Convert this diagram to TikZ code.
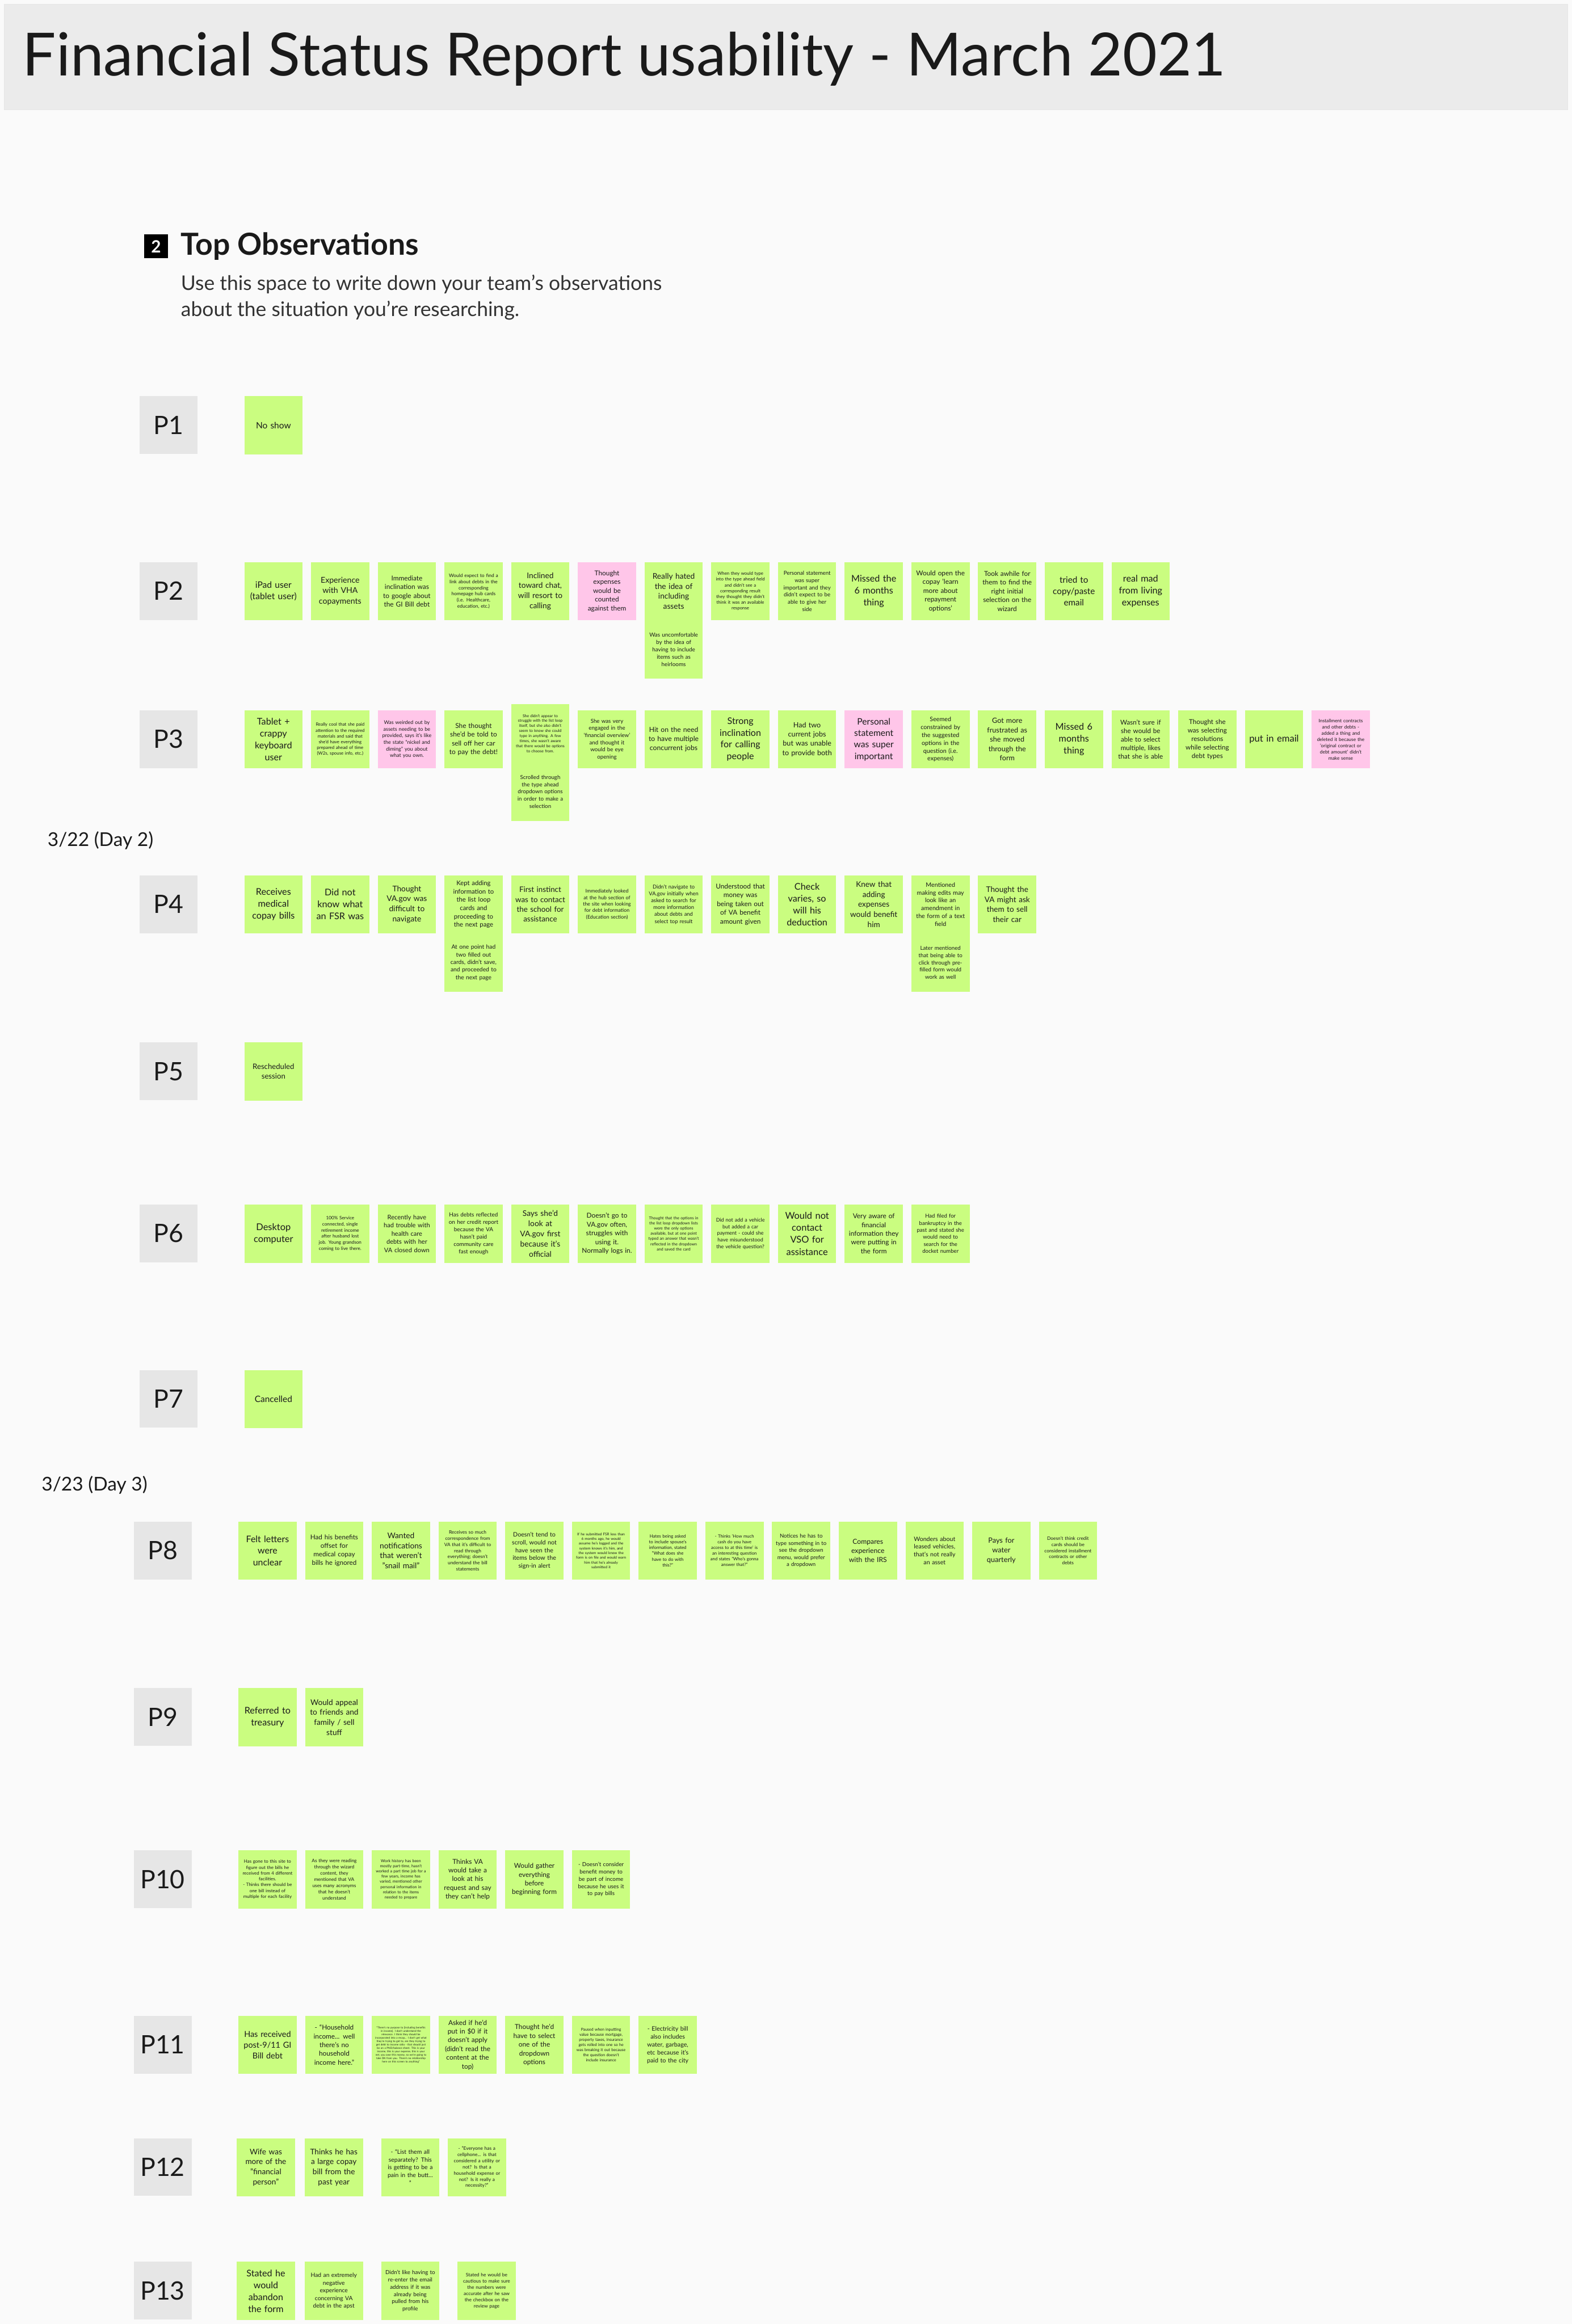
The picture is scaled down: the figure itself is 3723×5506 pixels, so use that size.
\documentclass[tikz,border=0pt]{standalone}
\usepackage{fontspec}
\setmainfont{Lato}
\definecolor{bgc}{HTML}{FAFAFA}
\definecolor{barc}{HTML}{EBEBEB}
\definecolor{stickyg}{HTML}{CAFD80}
\definecolor{stickyp}{HTML}{FFC6E9}
\definecolor{labelgray}{HTML}{E6E6E6}
\definecolor{ink}{HTML}{1A1A1A}
\definecolor{subink}{HTML}{333333}
\newcommand\ls[1]{\fontsize{\fpeval{#1*0.2189}pt}{\fpeval{#1*0.28453}pt}\selectfont}
\newcommand\fpx[1]{\fontsize{\fpeval{#1*0.28453}pt}{\fpeval{#1*0.28453*1.3}pt}\selectfont}
\tikzset{
  note/.style={fill=stickyg, anchor=north west, minimum width=13.8mm, minimum height=13.8mm,
    text width=13.6mm, inner xsep=0.1mm, inner ysep=0pt, align=center, text=ink},
  pnote/.style={note, fill=stickyp},
  plabel/.style={fill=labelgray, anchor=north west, minimum width=13.7mm, minimum height=13.7mm,
    inner sep=0pt, text=ink, font=\fpx{60}},
  daylabel/.style={anchor=west, inner sep=0pt, text=ink, font=\fpx{45}}
}
\begin{document}
\begin{tikzpicture}[x=0.1mm,y=-0.1mm]
\useasboundingbox (0,0) rectangle (3723,5506);
\fill[bgc] (0,0) rectangle (3723,5506);
% title bar
\node[fill=barc, draw=labelgray, anchor=north west, minimum width=370.3mm, minimum height=25mm, inner sep=0pt] (bar) at (10,10) {};
\node[anchor=west, inner sep=0pt, text=ink, font=\fpx{141}] (title) at (53,140) {Financial Status Report usability - March 2021};
% header
\node[fill=black, anchor=north west, minimum size=5.6mm, inner sep=0pt, text=white, font=\bfseries\fpx{40}] (num) at (341,555) {2};
\node[anchor=west, inner sep=0pt, text=ink, font=\bfseries\fpx{72}] (hdr) at (428,584) {Top Observations};
\node[anchor=north west, inner sep=0pt, text=subink, align=left, font=\ls{62}] (sub) at (428,650) {Use this space to write down your team's observations\\about the situation you're researching.};
% day labels
\node[daylabel] (day2) at (112,1991) {3/22 (Day 2)};
\node[daylabel] (day3) at (98,3519) {3/23 (Day 3)};

% P1
\node[plabel] (l1) at (330,938) {P1};
\node[note, font=\ls{27}] (p1a) at (578,938) {No show};

% P2
\node[plabel] (l2) at (330,1331) {P2};
\node[note, font=\ls{27.3}] (p2a) at (578,1331) {iPad user\\(tablet user)};
\node[note, font=\ls{24.7}] (p2b) at (736,1331) {Experience\\with VHA\\copayments};
\node[note, font=\ls{20.7}] (p2c) at (894,1331) {Immediate\\inclination was\\to google about\\the GI Bill debt};
\node[note, font=\ls{14.7}] (p2d) at (1052,1331) {Would expect to find a\\link about debts in the\\corresponding\\homepage hub cards\\(i.e. Healthcare,\\education, etc.)};
\node[note, font=\ls{24}] (p2e) at (1210,1331) {Inclined\\toward chat,\\will resort to\\calling};
\node[pnote, font=\ls{20.7}] (p2f) at (1368,1331) {Thought\\expenses\\would be\\counted\\against them};
\node[note, font=\ls{24}] (p2g) at (1526,1331) {Really hated\\the idea of\\including\\assets};
\node[note, font=\ls{17.3}] (p2g2) at (1526,1469) {Was uncomfortable\\by the idea of\\having to include\\items such as\\heirlooms};
\node[note, font=\ls{13.7}] (p2h) at (1684,1331) {When they would type\\into the type ahead field\\and didn't see a\\corresponding result\\they thought they didn't\\think it was an available\\response};
\node[note, font=\ls{17}] (p2i) at (1842,1331) {Personal statement\\was super\\important and they\\didn't expect to be\\able to give her\\side};
\node[note, font=\ls{28.3}] (p2j) at (2000,1331) {Missed the\\6 months\\thing};
\node[note, font=\ls{20.7}] (p2k) at (2158,1331) {Would open the\\copay 'learn\\more about\\repayment\\options'};
\node[note, font=\ls{20.7}] (p2l) at (2316,1331) {Took awhile for\\them to find the\\right initial\\selection on the\\wizard};
\node[note, font=\ls{26.7}] (p2m) at (2474,1331) {tried to\\copy/paste\\email};
\node[note, font=\ls{28.3}] (p2n) at (2632,1331) {real mad\\from living\\expenses};

% P3
\node[plabel] (l3) at (330,1682) {P3};
\node[note, font=\ls{28.3}] (p3a) at (578,1682) {Tablet +\\crappy\\keyboard\\user};
\node[note, font=\ls{13.7}] (p3b) at (736,1682) {Really cool that she paid\\attention to the required\\materials and said that\\she'd have everything\\prepared ahead of time\\(W2s, spouse info, etc.)};
\node[pnote, font=\ls{15.7}] (p3c) at (894,1682) {Was weirded out by\\assets needing to be\\provided, says it’s like\\the state “nickel and\\diming” you about\\what you own.};
\node[note, font=\ls{20.7}] (p3d) at (1052,1682) {She thought\\she’d be told to\\sell off her car\\to pay the debt!};
\node[note, font=\ls{12}] (p3e) at (1210,1668) {She didn't appear to\\struggle with the list loop\\itself, but she also didn't\\seem to know she could\\type in anything. A few\\times, she wasn't aware\\that there would be options\\to choose from.};
\node[note, font=\ls{17}] (p3e2) at (1210,1806) {Scrolled through\\the type ahead\\dropdown options\\in order to make a\\selection};
\node[note, font=\ls{17}] (p3f) at (1368,1682) {She was very\\engaged in the\\‘financial overview’\\and thought it\\would be eye\\opening};
\node[note, font=\ls{21.3}] (p3g) at (1526,1682) {Hit on the need\\to have multiple\\concurrent jobs};
\node[note, font=\ls{28}] (p3h) at (1684,1682) {Strong\\inclination\\for calling\\people};
\node[note, font=\ls{22}] (p3i) at (1842,1682) {Had two\\current jobs\\but was unable\\to provide both};
\node[pnote, font=\ls{27.3}] (p3j) at (2000,1682) {Personal\\statement\\was super\\important};
\node[note, font=\ls{18.7}] (p3k) at (2158,1682) {Seemed\\constrained by\\the suggested\\options in the\\question (i.e.\\expenses)};
\node[note, font=\ls{22}] (p3l) at (2316,1682) {Got more\\frustrated as\\she moved\\through the\\form};
\node[note, font=\ls{28.3}] (p3m) at (2474,1682) {Missed 6\\months\\thing};
\node[note, font=\ls{20.3}] (p3n) at (2632,1682) {Wasn't sure if\\she would be\\able to select\\multiple, likes\\that she is able};
\node[note, font=\ls{20.3}] (p3o) at (2790,1682) {Thought she\\was selecting\\resolutions\\while selecting\\debt types};
\node[note, font=\ls{29}] (p3p) at (2948,1682) {put in email};
\node[pnote, font=\ls{14.7}] (p3q) at (3106,1682) {Installment contracts\\and other debts -\\added a thing and\\deleted it because the\\'original contract or\\debt amount' didn't\\make sense};

% P4
\node[plabel] (l4) at (330,2073) {P4};
\node[note, font=\ls{28.3}] (p4a) at (578,2073) {Receives\\medical\\copay bills};
\node[note, font=\ls{28.3}] (p4b) at (736,2073) {Did not\\know what\\an FSR was};
\node[note, font=\ls{24}] (p4c) at (894,2073) {Thought\\VA.gov was\\difficult to\\navigate};
\node[note, font=\ls{19.7}] (p4d) at (1052,2073) {Kept adding\\information to\\the list loop\\cards and\\proceeding to\\the next page};
\node[note, font=\ls{18}] (p4d2) at (1052,2211) {At one point had\\two filled out\\cards, didn't save,\\and proceeded to\\the next page};
\node[note, font=\ls{23.3}] (p4e) at (1210,2073) {First instinct\\was to contact\\the school for\\assistance};
\node[note, font=\ls{15.3}] (p4f) at (1368,2073) {Immediately looked\\at the hub section of\\the site when looking\\for debt information\\(Education section)};
\node[note, font=\ls{16.3}] (p4g) at (1526,2073) {Didn't navigate to\\VA.gov initially when\\asked to search for\\more information\\about debts and\\select top result};
\node[note, font=\ls{20.7}] (p4h) at (1684,2073) {Understood that\\money was\\being taken out\\of VA benefit\\amount given};
\node[note, font=\ls{28.3}] (p4i) at (1842,2073) {Check\\varies, so\\will his\\deduction};
\node[note, font=\ls{23.7}] (p4j) at (2000,2073) {Knew that\\adding\\expenses\\would benefit\\him};
\node[note, font=\ls{18.7}] (p4k) at (2158,2073) {Mentioned\\making edits may\\look like an\\amendment in\\the form of a text\\field};
\node[note, font=\ls{17}] (p4k2) at (2158,2211) {Later mentioned\\that being able to\\click through pre-\\filled form would\\work as well};
\node[note, font=\ls{23.7}] (p4l) at (2316,2073) {Thought the\\VA might ask\\them to sell\\their car};

% P5
\node[plabel] (l5) at (330,2469) {P5};
\node[note, font=\ls{23}] (p5a) at (578,2469) {Rescheduled\\session};

% P6
\node[plabel] (l6) at (330,2853) {P6};
\node[note, font=\ls{28.7}] (p6a) at (578,2853) {Desktop\\computer};
\node[note, font=\ls{14.3}] (p6b) at (736,2853) {100\% Service\\connected, single\\retirement income\\after husband lost\\job. Young grandson\\coming to live there.};
\node[note, font=\ls{19.3}] (p6c) at (894,2853) {Recently have\\had trouble with\\health care\\debts with her\\VA closed down};
\node[note, font=\ls{17.3}] (p6d) at (1052,2853) {Has debts reflected\\on her credit report\\because the VA\\hasn't paid\\community care\\fast enough};
\node[note, font=\ls{24}] (p6e) at (1210,2853) {Says she'd\\look at\\VA.gov first\\because it's\\official};
\node[note, font=\ls{20.7}] (p6f) at (1368,2853) {Doesn't go to\\VA.gov often,\\struggles with\\using it.\\Normally logs in.};
\node[note, font=\ls{12.3}] (p6g) at (1526,2853) {Thought that the options in\\the list loop dropdown lists\\were the only options\\available, but at one point\\typed an answer that wasn't\\reflected in the dropdown\\and saved the card};
\node[note, font=\ls{15.7}] (p6h) at (1684,2853) {Did not add a vehicle\\but added a car\\payment - could she\\have misunderstood\\the vehicle question?};
\node[note, font=\ls{28.7}] (p6i) at (1842,2853) {Would not\\contact\\VSO for\\assistance};
\node[note, font=\ls{20.7}] (p6j) at (2000,2853) {Very aware of\\financial\\information they\\were putting in\\the form};
\node[note, font=\ls{16.7}] (p6k) at (2158,2853) {Had filed for\\bankruptcy in the\\past and stated she\\would need to\\search for the\\docket number};

% P7
\node[plabel] (l7) at (330,3245) {P7};
\node[note, font=\ls{27}] (p7a) at (578,3245) {Cancelled};

% P8
\node[plabel] (l8) at (316,3604) {P8};
\node[note, font=\ls{27.8}] (p8a) at (564,3604) {Felt letters\\were\\unclear};
\node[note, font=\ls{20.3}] (p8b) at (722,3604) {Had his benefits\\offset for\\medical copay\\bills he ignored};
\node[note, font=\ls{24}] (p8c) at (880,3604) {Wanted\\notifications\\that weren't\\"snail mail"};
\node[note, font=\ls{14.6}] (p8d) at (1038,3604) {Receives so much\\correspondence from\\VA that it's difficult to\\read through\\everything; doesn't\\understand the bill\\statements};
\node[note, font=\ls{18.7}] (p8e) at (1196,3604) {Doesn't tend to\\scroll, would not\\have seen the\\items below the\\sign-in alert};
\node[note, font=\ls{11.2}] (p8f) at (1354,3604) {If he submitted FSR less than\\6 months ago, he would\\assume he's logged and the\\system knows it's him, and\\the system would know the\\form is on file and would warn\\him that he's already\\submitted it};
\node[note, font=\ls{13.7}] (p8g) at (1512,3604) {Hates being asked\\to include spouse's\\information, stated\\"What does she\\have to do with\\this?"};
\node[note, font=\ls{13.4}] (p8h) at (1670,3604) {- Thinks 'How much\\cash do you have\\access to at this time' is\\an interesting question\\and states "Who's gonna\\answer that?"};
\node[note, font=\ls{16.8}] (p8i) at (1828,3604) {Notices he has to\\type something in to\\see the dropdown\\menu, would prefer\\a dropdown};
\node[note, font=\ls{21.3}] (p8j) at (1986,3604) {Compares\\experience\\with the IRS};
\node[note, font=\ls{18.6}] (p8k) at (2144,3604) {Wonders about\\leased vehicles,\\that's not really\\an asset};
\node[note, font=\ls{22.3}] (p8l) at (2302,3604) {Pays for\\water\\quarterly};
\node[note, font=\ls{14.6}] (p8m) at (2460,3604) {Doesn't think credit\\cards should be\\considered installment\\contracts or other\\debts};

% P9
\node[plabel] (l9) at (316,3999) {P9};
\node[note, font=\ls{28.2}] (p9a) at (564,3999) {Referred to\\treasury};
\node[note, font=\ls{23.9}] (p9b) at (722,3999) {Would appeal\\to friends and\\family / sell\\stuff};

% P10
\node[plabel] (l10) at (316,4383) {P10};
\node[note, font=\ls{13.8}] (p10a) at (564,4383) {Has gone to this site to\\figure out the bills he\\received from 4 different\\facilities.\\- Thinks there should be\\one bill instead of\\multiple for each facility};
\node[note, font=\ls{14.6}] (p10b) at (722,4383) {As they were reading\\through the wizard\\content, they\\mentioned that VA\\uses many acronyms\\that he doesn't\\understand};
\node[note, font=\ls{12.2}] (p10c) at (880,4383) {Work history has been\\mostly part-time, hasn't\\worked a part time job for a\\few years, income has\\varied, mentioned other\\personal information in\\relation to the items\\needed to prepare};
\node[note, font=\ls{20.7}] (p10d) at (1038,4383) {Thinks VA\\would take a\\look at his\\request and say\\they can't help};
\node[note, font=\ls{20.6}] (p10e) at (1196,4383) {Would gather\\everything\\before\\beginning form};
\node[note, font=\ls{17.2}] (p10f) at (1354,4383) {- Doesn't consider\\benefit money to\\be part of income\\because he uses it\\to pay bills};

% P11
\node[plabel] (l11) at (316,4775) {P11};
\node[note, font=\ls{25.2}] (p11a) at (564,4775) {Has received\\post-9/11 GI\\Bill debt};
\node[note, font=\ls{20.6}] (p11b) at (722,4775) {- “Household\\income... well\\there’s no\\household\\income here.”};
\node[note, font=\ls{8.1}] (p11c) at (880,4775) {“There’s no purpose to [including benefits\\in income]. I don’t understand the\\relevance. I think they should be\\incorporated into a recap... I don’t get what\\they’re trying to get to, are they trying to\\get debt to income ratio - that should just\\be on a PND/balance sheet. This is your\\income, this is your expense, this is your\\net, you owe this money, so we’re going to\\take \$N from you. There’s no relationship\\here on this screen to anything”};
\node[note, font=\ls{20.7}] (p11d) at (1038,4775) {Asked if he'd\\put in \$0 if it\\doesn't apply\\(didn't read the\\content at the\\top)};
\node[note, font=\ls{20.7}] (p11e) at (1196,4775) {Thought he'd\\have to select\\one of the\\dropdown\\options};
\node[note, font=\ls{12.1}] (p11f) at (1354,4775) {Paused when inputting\\value because mortgage,\\property taxes, insurance\\gets rolled into one so he\\was breaking it out because\\the question doesn't\\include insurance};
\node[note, font=\ls{18.75}] (p11g) at (1512,4775) {- Electricity bill\\also includes\\water, garbage,\\etc because it's\\paid to the city};

% P12
\node[plabel] (l12) at (316,5065) {P12};
\node[note, font=\ls{23.8}] (p12a) at (560,5065) {Wife was\\more of the\\"financial\\person"};
\node[note, font=\ls{23.8}] (p12b) at (721,5065) {Thinks he has\\a large copay\\bill from the\\past year};
\node[note, font=\ls{18.3}] (p12c) at (902,5065) {- “List them all\\separately? This\\is getting to be a\\pain in the butt...\\”};
\node[note, font=\ls{14.6}] (p12d) at (1060,5065) {- "Everyone has a\\cellphone... is that\\considered a utility or\\not? Is that a\\household expense or\\not? Is it really a\\necessity?"};

% P13
\node[plabel] (l13) at (316,5358) {P13};
\node[note, font=\ls{28.1}] (p13a) at (560,5358) {Stated he\\would\\abandon\\the form};
\node[note, font=\ls{18}] (p13b) at (721,5358) {Had an extremely\\negative\\experience\\concerning VA\\debt in the apst};
\node[note, font=\ls{17.1}] (p13c) at (902,5358) {Didn't like having to\\re-enter the email\\address if it was\\already being\\pulled from his\\profile};
\node[note, font=\ls{14.7}] (p13d) at (1083,5358) {Stated he would be\\cautious to make sure\\the numbers were\\accurate after he saw\\the checkbox on the\\review page};
\end{tikzpicture}
\end{document}
